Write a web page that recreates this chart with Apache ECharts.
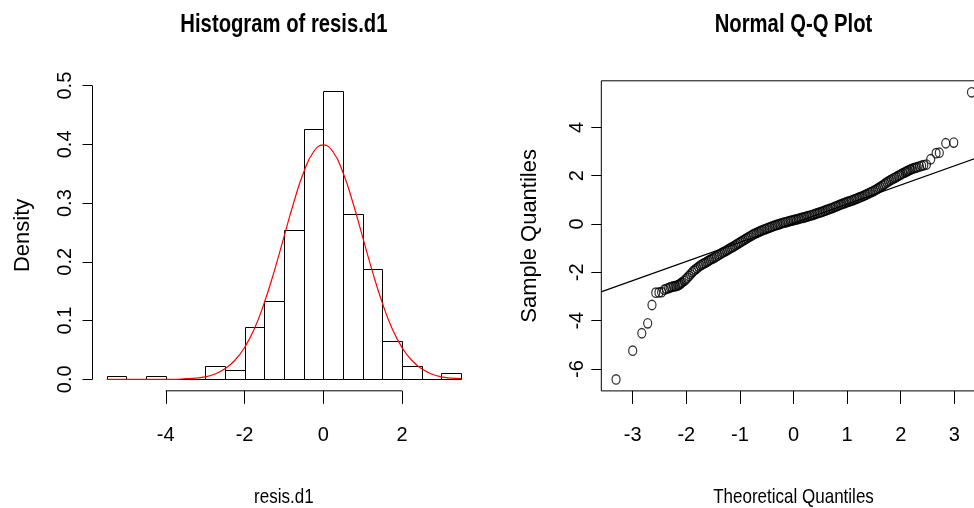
<!DOCTYPE html>
<html><head><meta charset="utf-8">
<script src="https://cdn.jsdelivr.net/npm/echarts@6/dist/echarts.min.js"></script>
<style>html,body{margin:0;padding:0;background:#fff}#c{width:974px;height:508px}</style>
</head><body><div id="c"></div>
<script>
// ---- Histogram data ----
const histBreaks = [-5.5,-5,-4.5,-4,-3.5,-3,-2.5,-2,-1.5,-1,-0.5,0,0.5,1,1.5,2,2.5,3,3.5];
const histDensity = [0.006,0,0.006,0,0,0.022,0.016,0.089,0.134,0.254,0.426,0.491,0.282,0.188,0.066,0.022,0,0.010];
const normX = [-5.5,-5.25,-5,-4.75,-4.5,-4.25,-4,-3.75,-3.5,-3.25,-3,-2.75,-2.5,-2.25,-2,-1.75,-1.5,-1.25,-1,-0.75,-0.5,-0.25,0,0.25,0.5,0.75,1,1.25,1.5,1.75,2,2.25,2.5,2.75,3,3.25,3.5];
const normY = [0,0,0,0,0,0,0,0,0.001,0.002,0.004,0.009,0.018,0.032,0.054,0.086,0.130,0.183,0.242,0.301,0.352,0.387,0.399,0.387,0.352,0.301,0.242,0.183,0.130,0.086,0.054,0.032,0.018,0.009,0.004,0.002,0.001];
const histXTicks = [-4,-2,0,2];
const histYTicks = [0,0.1,0.2,0.3,0.4,0.5];
const histXRange = [-5.86, 3.86];
const histYRange = [-0.0196, 0.5096];

// ---- Q-Q data ----
const qqXTicks = [-3,-2,-1,0,1,2,3];
const qqYTicks = [-6,-4,-2,0,2,4];
const qqXRange = [-3.5856, 3.5856];
const qqYRange = [-6.905, 5.925];
const qqLine = [[-3.59,-2.81],[3.59,2.87]];
const qqPoints = [
[-3.31,-6.43],[-3.00,-5.24],[-2.83,-4.52],[-2.72,-4.11],[-2.64,-3.35],[-2.57,-2.84],[-2.51,-2.83],[-2.46,-2.82],[-2.41,-2.72],[-2.37,-2.68],[-2.33,-2.65],[-2.30,-2.62],[-2.27,-2.60],[-2.24,-2.58],[-2.21,-2.57],[-2.19,-2.56],[-2.16,-2.54],[-2.14,-2.52],[-2.12,-2.49],[-2.10,-2.45],[-2.08,-2.42],
[-2.04,-2.35],[-2.01,-2.29],[-1.98,-2.22],[-1.95,-2.15],[-1.92,-2.08],[-1.89,-2.00],[-1.86,-1.93],[-1.83,-1.88],[-1.80,-1.83],[-1.77,-1.77],
[-1.74,-1.72],[-1.71,-1.68],[-1.68,-1.64],[-1.65,-1.61],[-1.62,-1.57],[-1.59,-1.53],[-1.56,-1.49],[-1.53,-1.45],[-1.50,-1.42],[-1.47,-1.38],
[-1.44,-1.34],[-1.41,-1.30],[-1.38,-1.26],[-1.35,-1.22],[-1.32,-1.18],[-1.29,-1.15],[-1.26,-1.11],[-1.23,-1.07],[-1.20,-1.03],[-1.17,-0.99],
[-1.14,-0.96],[-1.11,-0.92],[-1.08,-0.88],[-1.05,-0.83],[-1.02,-0.79],[-0.99,-0.75],[-0.96,-0.71],[-0.93,-0.67],[-0.90,-0.63],[-0.87,-0.59],
[-0.84,-0.55],[-0.81,-0.51],[-0.78,-0.47],[-0.75,-0.43],[-0.72,-0.40],[-0.69,-0.37],[-0.66,-0.34],[-0.63,-0.31],[-0.60,-0.28],[-0.57,-0.25],
[-0.54,-0.22],[-0.51,-0.20],[-0.48,-0.17],[-0.45,-0.15],[-0.42,-0.12],[-0.39,-0.10],[-0.36,-0.07],[-0.33,-0.05],[-0.30,-0.03],[-0.27,-0.01],
[-0.24,0.01],[-0.21,0.04],[-0.18,0.06],[-0.15,0.07],[-0.12,0.09],[-0.09,0.11],[-0.06,0.13],[-0.03,0.14],[0.00,0.16],[0.03,0.18],
[0.06,0.19],[0.09,0.21],[0.12,0.23],[0.15,0.25],[0.18,0.26],[0.21,0.28],[0.24,0.30],[0.27,0.32],[0.30,0.34],[0.33,0.36],
[0.36,0.38],[0.39,0.40],[0.42,0.43],[0.45,0.45],[0.48,0.47],[0.51,0.49],[0.54,0.51],[0.57,0.54],[0.60,0.56],[0.63,0.59],
[0.66,0.61],[0.69,0.64],[0.72,0.66],[0.75,0.69],[0.78,0.72],[0.81,0.74],[0.84,0.77],[0.87,0.80],[0.90,0.82],[0.93,0.85],
[0.96,0.87],[0.99,0.90],[1.02,0.92],[1.05,0.94],[1.08,0.97],[1.11,0.99],[1.14,1.02],[1.17,1.04],[1.20,1.07],[1.23,1.10],
[1.26,1.12],[1.29,1.15],[1.32,1.18],[1.35,1.21],[1.38,1.24],[1.41,1.28],[1.44,1.31],[1.47,1.34],[1.50,1.37],[1.53,1.41],
[1.56,1.45],[1.59,1.49],[1.62,1.53],[1.65,1.58],[1.68,1.62],[1.71,1.67],[1.74,1.72],[1.77,1.76],[1.80,1.80],[1.83,1.84],
[1.86,1.88],[1.89,1.91],[1.92,1.95],[1.95,1.99],[1.98,2.02],[2.01,2.06],[2.04,2.10],
[2.08,2.13],[2.10,2.16],[2.12,2.19],[2.14,2.21],[2.17,2.24],[2.19,2.26],[2.22,2.29],[2.25,2.31],[2.28,2.33],[2.31,2.35],
[2.35,2.38],[2.39,2.41],[2.43,2.43],[2.48,2.46],[2.56,2.68],[2.66,2.93],[2.72,2.95],[2.84,3.34],[2.99,3.37],[3.32,5.45]
];

const REG = "'Liberation Sans',Arial,sans-serif";
const G0 = {left: 92.5, top: 80, width: 382.8, height: 310.8};
const G1 = {left: 601.3, top: 80.8, width: 384.4, height: 310.1};
const SQUASH = 0.81;

const chart = echarts.init(document.getElementById('c'), null, {renderer: 'canvas'});

const histData = histDensity.map((d, i) => [histBreaks[i], histBreaks[i + 1], d]);
const normData = normX.map((x, i) => [x, normY[i]]);

function crisp(v) { return Math.round(v) + 0.5; }
const tickStyle = {color: '#000', width: 1};

function squashedText(str, cx, cy, font) {
  return {type: 'text', x: cx, y: cy, scaleX: SQUASH, silent: true,
          style: {text: str, font: font, fill: '#000', align: 'center', verticalAlign: 'middle'}};
}

chart.setOption({
  animation: false,
  backgroundColor: '#fff',
  grid: [
    Object.assign({containLabel: false, outerBoundsMode: 'none', show: false}, G0),
    Object.assign({containLabel: false, outerBoundsMode: 'none', show: true, borderColor: '#000', borderWidth: 1,
                   backgroundColor: 'transparent'}, G1)
  ],
  xAxis: [
    {gridIndex: 0, type: 'value', min: histXRange[0], max: histXRange[1],
     axisLine: {show: false, onZero: false}, splitLine: {show: false},
     axisTick: {show: true, customValues: histXTicks, length: 13, lineStyle: tickStyle},
     axisLabel: {customValues: histXTicks, margin: 35, color: '#000', fontFamily: REG, fontSize: 20}},
    {gridIndex: 1, type: 'value', min: qqXRange[0], max: qqXRange[1],
     axisLine: {show: false, onZero: false}, splitLine: {show: false},
     axisTick: {show: true, customValues: qqXTicks, length: 13, lineStyle: tickStyle},
     axisLabel: {customValues: qqXTicks, margin: 35, color: '#000', fontFamily: REG, fontSize: 20}}
  ],
  yAxis: [
    {gridIndex: 0, type: 'value', min: histYRange[0], max: histYRange[1],
     axisLine: {show: false, onZero: false}, splitLine: {show: false},
     axisTick: {show: true, customValues: histYTicks, length: 10, lineStyle: tickStyle},
     axisLabel: {customValues: histYTicks, rotate: 90, margin: 17, color: '#000', fontFamily: REG, fontSize: 20,
                 formatter: v => Number(v).toFixed(1)},
     name: 'Density', nameLocation: 'middle', nameRotate: 90, nameGap: 59,
     nameTextStyle: {fontFamily: REG, fontSize: 22, color: '#000'}},
    {gridIndex: 1, type: 'value', min: qqYRange[0], max: qqYRange[1],
     axisLine: {show: false, onZero: false}, splitLine: {show: false},
     axisTick: {show: true, customValues: qqYTicks, length: 10, lineStyle: tickStyle},
     axisLabel: {customValues: qqYTicks, rotate: 90, margin: 14, color: '#000', fontFamily: REG, fontSize: 20},
     name: 'Sample Quantiles', nameLocation: 'middle', nameRotate: 90, nameGap: 60,
     nameTextStyle: {fontFamily: REG, fontSize: 22, color: '#000'}}
  ],
  graphic: [
    squashedText('Histogram of resis.d1', G0.left + G0.width / 2, 25, "bold 25px 'Liberation Sans', Arial, sans-serif"),
    squashedText('Normal Q-Q Plot', G1.left + G1.width / 2, 25, "bold 25px 'Liberation Sans', Arial, sans-serif"),
    squashedText('resis.d1', G0.left + G0.width / 2, 497, "21px 'Liberation Sans', Arial, sans-serif"),
    squashedText('Theoretical Quantiles', G1.left + G1.width / 2, 497, "21px 'Liberation Sans', Arial, sans-serif")
  ],
  series: [
    {type: 'custom', xAxisIndex: 0, yAxisIndex: 0, data: histData, clip: false, z: 2,
     renderItem: function (params, api) {
       const p0 = api.coord([api.value(0), 0]);
       const p1 = api.coord([api.value(1), api.value(2)]);
       const x0 = crisp(p0[0]), x1 = crisp(p1[0]), yb = crisp(p0[1]), yt = crisp(p1[1]);
       return {type: 'rect', shape: {x: x0, y: yt, width: x1 - x0, height: yb - yt},
               style: {fill: '#fff', stroke: '#000', lineWidth: 1}};
     }},
    {type: 'line', xAxisIndex: 0, yAxisIndex: 0, data: normData, smooth: true, showSymbol: false, symbol: 'none',
     lineStyle: {color: '#ff0000', width: 1.2}, z: 3, silent: true},
    // R-style axis lines (first to last tick)
    {type: 'line', xAxisIndex: 0, yAxisIndex: 0, clip: false, symbol: 'none', z: 4,
     data: [[histXTicks[0], histYRange[0]], [histXTicks[histXTicks.length - 1], histYRange[0]]],
     lineStyle: {color: '#000', width: 1}},
    {type: 'line', xAxisIndex: 0, yAxisIndex: 0, clip: false, symbol: 'none', z: 4,
     data: [[histXRange[0], histYTicks[0]], [histXRange[0], histYTicks[histYTicks.length - 1]]],
     lineStyle: {color: '#000', width: 1}},
    // Q-Q
    {type: 'scatter', xAxisIndex: 1, yAxisIndex: 1, data: qqPoints, symbol: 'circle', symbolSize: [8, 9.4],
     itemStyle: {color: 'rgba(0,0,0,0)', borderColor: '#000', borderWidth: 1.3}, z: 3, silent: true},
    {type: 'line', xAxisIndex: 1, yAxisIndex: 1, data: qqLine, symbol: 'none', clip: true,
     lineStyle: {color: '#000', width: 1.2}, z: 4}
  ]
});
</script></body></html>
